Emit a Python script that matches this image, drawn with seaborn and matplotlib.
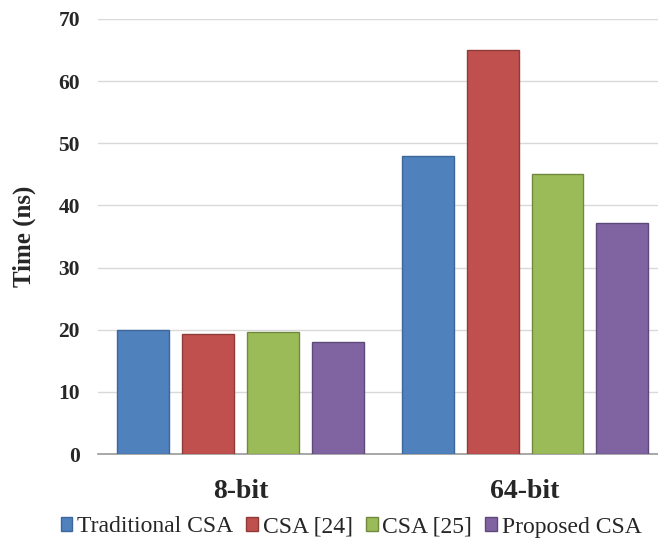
import pandas as pd
import matplotlib.pyplot as plt
import seaborn as sns

# CSA delay comparison (ns)
groups = ["8-bit", "64-bit"]
designs = ["Traditional CSA", "CSA [24]", "CSA [25]", "Proposed CSA"]
time_8bit = [20.0, 19.3, 19.6, 18.0]
time_64bit = [48.0, 65.0, 45.0, 37.2]

fills = ["#4F81BD", "#C0504D", "#9BBB59", "#8064A2"]
edges = ["#3B679B", "#8E3B39", "#71893F", "#5E4A7A"]

df = pd.DataFrame({
    "Group": [groups[0]] * 4 + [groups[1]] * 4,
    "Design": designs * 2,
    "Time": time_8bit + time_64bit,
})

sns.set_style("white")
plt.rcParams["font.family"] = ["Liberation Serif", "DejaVu Serif"]

fig = plt.figure(figsize=(6.58, 5.40), dpi=100)
ax = fig.add_axes([98 / 658, 86 / 540, 1 - 98 / 658, (454 - 19) / 540])

sns.barplot(data=df, x="Group", y="Time", hue="Design", order=groups,
            hue_order=designs, palette=fills, saturation=1, width=0.912,
            gap=0.2, ax=ax, zorder=3)

for i, cont in enumerate(ax.containers):
    for p in cont:
        p.set_edgecolor(edges[i])
        p.set_linewidth(1.0)

ax.set_ylim(0, 70)
ax.set_xlim(-0.5, 1.467)
ax.set_yticks(range(0, 71, 10))
ax.yaxis.grid(True, color="#D9D9D9", linewidth=1.0, zorder=0)
ax.set_axisbelow(True)
for s in ["top", "right", "left"]:
    ax.spines[s].set_visible(False)
ax.spines["bottom"].set_color("#9A9A9A")
ax.spines["bottom"].set_linewidth(1.2)
ax.tick_params(axis="y", length=0, pad=13, labelsize=15.5)
ax.tick_params(axis="x", length=0, pad=18, labelsize=20)
for lab in ax.get_yticklabels() + ax.get_xticklabels():
    lab.set_fontweight("bold")
ax.set_xlabel("")
ax.set_ylabel("Time (ns)", fontsize=18, fontweight="bold", labelpad=16)

handles, labels = ax.get_legend_handles_labels()
for h, e in zip(handles, edges):
    h.set_edgecolor(e)
ax.legend(handles, labels, loc="center", bbox_to_anchor=(351 / 658, 13 / 540),
          bbox_transform=fig.transFigure, ncol=4, frameon=False, fontsize=17,
          handlelength=0.5, handleheight=0.5, handletextpad=0.2,
          columnspacing=0.55, borderaxespad=0)

fig.savefig("out.png", dpi=100)
